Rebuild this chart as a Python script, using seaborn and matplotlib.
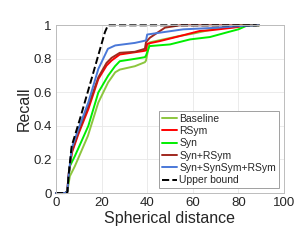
import pandas as pd
import matplotlib
matplotlib.use("Agg")
import matplotlib.pyplot as plt
import seaborn as sns

# curves (x = spherical distance, y = recall)
ub_x = [0, 5, 5.5, 6.9, 10.5, 15.6, 21.5, 22.8, 88]
ub_y = [0, 0, 0.1, 0.28, 0.44, 0.68, 0.96, 1.0, 1.0]

blue_x = [0, 4, 5, 5.5, 7, 9.8, 14.2, 18.6, 22.8, 26, 34.6, 38, 39.5, 40, 45, 55.8, 70, 80, 89]
blue_y = [0, 0, 0.01, 0.1, 0.27, 0.38, 0.54, 0.74, 0.86, 0.88, 0.895, 0.905, 0.91, 0.945, 0.955, 0.976, 0.985, 0.995, 1.0]

dred_x = [0, 4, 5, 5.5, 7, 9.8, 14.2, 18.6, 22.2, 24.4, 28, 34.6, 39, 39.5, 41.2, 47.8, 54.4, 89]
dred_y = [0, 0, 0.01, 0.1, 0.25, 0.36, 0.52, 0.69, 0.776, 0.806, 0.836, 0.842, 0.86, 0.9, 0.926, 0.986, 1.0, 1.0]

red_x = [0, 4, 5, 5.5, 7, 9.8, 14.2, 18.6, 22.2, 24.4, 28, 38, 39.5, 40, 45.6, 54.4, 63, 67.5, 77.6, 85, 89]
red_y = [0, 0, 0.01, 0.1, 0.24, 0.35, 0.50, 0.68, 0.76, 0.79, 0.826, 0.846, 0.85, 0.89, 0.906, 0.936, 0.966, 0.97, 0.986, 1.0, 1.0]

syn_x = [0, 4, 5, 6.1, 8.3, 14.2, 18.6, 22.9, 25.9, 28, 34.6, 39, 39.5, 41, 50, 58.8, 67.5, 75, 80, 84, 89]
syn_y = [0, 0, 0.01, 0.16, 0.22, 0.40, 0.60, 0.70, 0.756, 0.786, 0.80, 0.81, 0.82, 0.876, 0.886, 0.916, 0.93, 0.958, 0.976, 1.0, 1.0]

base_x = [0, 4, 5, 6.1, 8.3, 14, 18.6, 22.9, 26, 28, 34.6, 39, 39.5, 41, 54, 60, 70, 80, 89]
base_y = [0, 0, 0.01, 0.10, 0.16, 0.34, 0.54, 0.66, 0.72, 0.736, 0.756, 0.78, 0.79, 0.898, 0.936, 0.95, 0.98, 1.0, 1.0]

series = [
    ("Baseline", base_x, base_y, "#8cc63e", "-"),
    ("RSym", red_x, red_y, "#ff0000", "-"),
    ("Syn", syn_x, syn_y, "#00ee00", "-"),
    ("Syn+RSym", dred_x, dred_y, "#a0281e", "-"),
    ("Syn+SynSym+RSym", blue_x, blue_y, "#4a78d8", "-"),
    ("Upper bound", ub_x, ub_y, "black", "--"),
]

sns.set_style("white")
plt.rcParams["font.family"] = ["Liberation Sans", "DejaVu Sans"]

fig = plt.figure(figsize=(2.99, 2.41), dpi=100)
ax = fig.add_axes([0.187, 0.199, 0.763, 0.696])

for name, xs, ys, col, ls in series:
    df = pd.DataFrame({"x": xs, "y": ys})
    sns.lineplot(data=df, x="x", y="y", ax=ax, color=col, linestyle=ls,
                 linewidth=1.4, label=name, estimator=None, sort=False,
                 clip_on=False)

ax.set_xlim(0, 100)
ax.set_ylim(0, 1)
ax.set_xticks([0, 20, 40, 60, 80, 100])
ax.set_yticks([0, 0.2, 0.4, 0.6, 0.8, 1])
ax.set_yticklabels(["0", "0.2", "0.4", "0.6", "0.8", "1"])
ax.grid(True, color="#e8e8e8", linewidth=0.6)
for s in ax.spines.values():
    s.set_color("#bcbcbc")
    s.set_linewidth(0.7)
ax.tick_params(labelsize=9.5, colors="#262626", length=2, direction="in", pad=3)
ax.set_xlabel("Spherical distance", fontsize=11.5, color="#262626", labelpad=1)
ax.set_ylabel("Recall", fontsize=11.5, color="#262626", labelpad=1)

leg = ax.legend(loc="lower right", fontsize=7.5, frameon=True, fancybox=False,
                framealpha=1, edgecolor="#a0a0a0", handlelength=1.5,
                handletextpad=0.2, labelspacing=0.22, borderpad=0.3,
                borderaxespad=0.45)
leg.get_frame().set_linewidth(0.7)

fig.savefig("out.png", dpi=100)
